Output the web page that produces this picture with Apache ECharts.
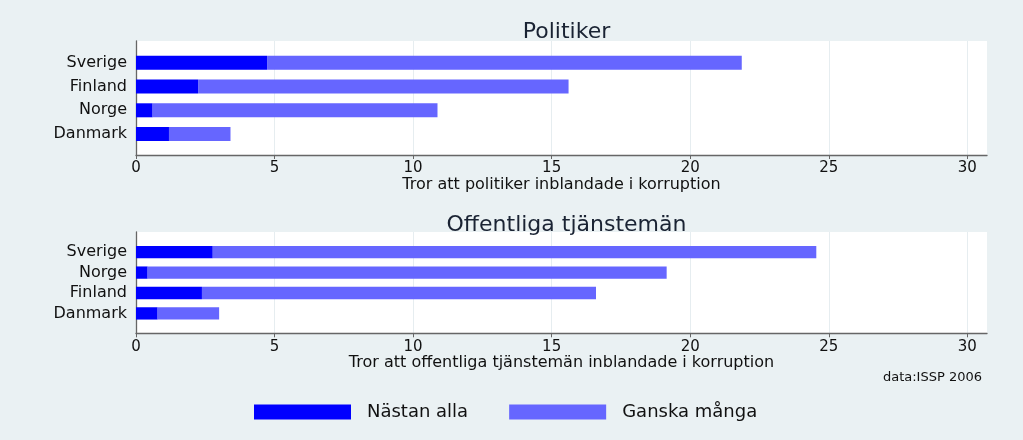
<!DOCTYPE html>
<html>
<head>
<meta charset="utf-8">
<script src="https://cdn.jsdelivr.net/npm/echarts@6/dist/echarts.min.js"></script>
<style>html,body{margin:0;padding:0;background:#eaf1f3;}#c{width:1023px;height:440px;}</style>
</head>
<body>
<div id="c"></div>
<script>
const seriesNames = ['Nästan alla', 'Ganska många'];
const countriesPol = ['Sverige', 'Finland', 'Norge', 'Danmark'];
const nastanAllaPol = [4.73, 2.24, 0.60, 1.19];
const ganskaMangaPol = [17.13, 13.37, 10.28, 2.22];
const countriesOff = ['Sverige', 'Norge', 'Finland', 'Danmark'];
const nastanAllaOff = [2.77, 0.42, 2.38, 0.78];
const ganskaMangaOff = [21.78, 18.73, 14.22, 2.22];
const xTicks = [0, 5, 10, 15, 20, 25, 30];
const titles = ['Politiker', 'Offentliga tjänstemän'];
const axisTitles = ['Tror att politiker inblandade i korruption', 'Tror att offentliga tjänstemän inblandade i korruption'];
const note = 'data:ISSP 2006';

const FONT = 'DejaVu Sans';
const TXT = '#111';
const XMAX = 30.71;
const L = 136, R = 36;

function bgX(gi, name) {
  return {
    type: 'value', gridIndex: gi, min: 0, max: XMAX,
    axisLine: { show: true, lineStyle: { color: '#666', width: 1.3 } },
    axisTick: { show: true, length: 4, customValues: xTicks, lineStyle: { color: '#666' } },
    axisLabel: { customValues: xTicks, fontFamily: FONT, fontSize: 15, color: TXT, margin: 6 },
    splitLine: { show: true, lineStyle: { color: '#e6edf0', width: 1 } },
    name: name, nameLocation: 'middle', nameGap: 17,
    nameTextStyle: { fontFamily: FONT, fontSize: 16, color: TXT }
  };
}
function barX(gi) {
  return { type: 'value', gridIndex: gi, min: 0, max: XMAX, show: false, splitLine: { show: false } };
}
function bgY(gi) {
  return {
    type: 'value', gridIndex: gi, min: 0, max: 1,
    axisLine: { show: true, lineStyle: { color: '#666', width: 1.3 } },
    axisTick: { show: false }, axisLabel: { show: false }, splitLine: { show: false }
  };
}
function barY(gi, cats) {
  return {
    type: 'category', gridIndex: gi, data: cats, inverse: true,
    axisLine: { show: false }, axisTick: { show: false },
    axisLabel: { interval: 0, fontFamily: FONT, fontSize: 16, color: TXT, margin: 9 }
  };
}
function bars(xi, vals, name, color, w) {
  return {
    type: 'bar', name: name, xAxisIndex: xi, yAxisIndex: xi, stack: 's' + xi,
    data: vals, barWidth: w, itemStyle: { color: color }, silent: true
  };
}

const chart = echarts.init(document.getElementById('c'));
chart.setOption({
  backgroundColor: '#eaf1f3',
  animation: false,
  title: [
    { text: titles[0], left: 561.5, top: 16, textAlign: 'center', textStyle: { fontFamily: FONT, fontSize: 22, fontWeight: 'normal', color: '#1a2333' } },
    { text: titles[1], left: 561.5, top: 209, textAlign: 'center', textStyle: { fontFamily: FONT, fontSize: 22, fontWeight: 'normal', color: '#1a2333' } },
    { text: note, right: 36, top: 366, textStyle: { fontFamily: FONT, fontSize: 13, fontWeight: 'normal', color: TXT } }
  ],
  legend: {
    data: seriesNames, left: 254, top: 403, itemWidth: 97, itemHeight: 15, itemGap: 41, padding: 0,
    icon: 'rect',
    textStyle: { fontFamily: FONT, fontSize: 18, color: TXT, padding: [0, 0, 0, 11] }
  },
  grid: [
    { left: L, right: R, top: 41, height: 114, show: true, backgroundColor: '#fff', borderWidth: 0 },
    { left: L, right: R, top: 50.8, height: 95.2 },
    { left: L, right: R, top: 232, height: 101.3, show: true, backgroundColor: '#fff', borderWidth: 0 },
    { left: L, right: R, top: 242, height: 81.6 }
  ],
  xAxis: [bgX(0, axisTitles[0]), barX(1), bgX(2, axisTitles[1]), barX(3)],
  yAxis: [bgY(0), barY(1, countriesPol), bgY(2), barY(3, countriesOff)],
  series: [
    bars(1, nastanAllaPol, seriesNames[0], '#0000ff', 14),
    bars(1, ganskaMangaPol, seriesNames[1], '#6666ff', 14),
    bars(3, nastanAllaOff, seriesNames[0], '#0000ff', 12.3),
    bars(3, ganskaMangaOff, seriesNames[1], '#6666ff', 12.3)
  ]
});
</script>
</body>
</html>
